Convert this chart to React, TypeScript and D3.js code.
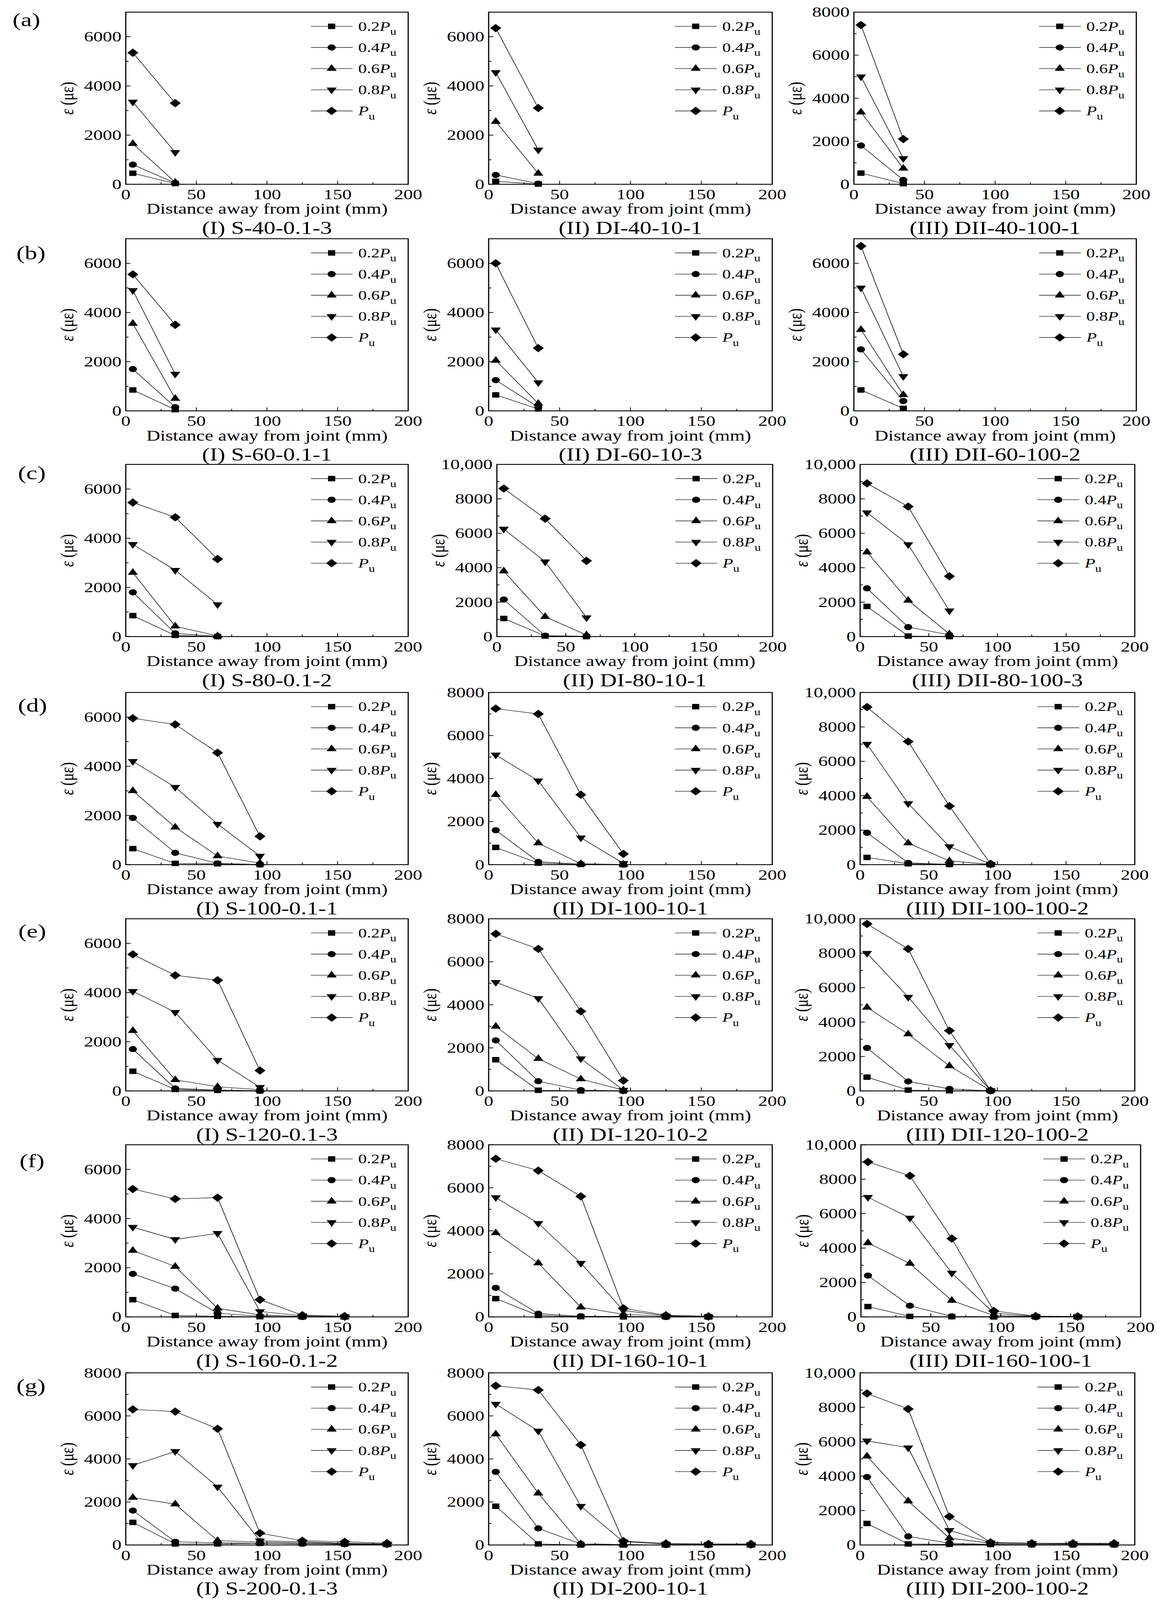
import { useEffect } from 'react';
import { line, range, scaleLinear, symbol, symbolCircle, symbolSquare, symbolTriangle } from 'd3';

// distances of the strain gauges from the joint (mm)
const distances = [5, 35, 65, 95, 125, 155, 185];
const loadLevels = ['0.2', '0.4', '0.6', '0.8', ''];
const markerKinds = ['square', 'circle', 'triangleUp', 'triangleDown', 'diamond'];
const rowLabels = ['(a)', '(b)', '(c)', '(d)', '(e)', '(f)', '(g)'];

const captions = [
  ['(I) S-40-0.1-3', '(II) DI-40-10-1', '(III) DII-40-100-1'],
  ['(I) S-60-0.1-1', '(II) DI-60-10-3', '(III) DII-60-100-2'],
  ['(I) S-80-0.1-2', '(II) DI-80-10-1', '(III) DII-80-100-3'],
  ['(I) S-100-0.1-1', '(II) DI-100-10-1', '(III) DII-100-100-2'],
  ['(I) S-120-0.1-3', '(II) DI-120-10-2', '(III) DII-120-100-2'],
  ['(I) S-160-0.1-2', '(II) DI-160-10-1', '(III) DII-160-100-1'],
  ['(I) S-200-0.1-3', '(II) DI-200-10-1', '(III) DII-200-100-2'],
];

const yMaxes = [
  [7000, 7000, 8000],
  [7000, 7000, 7000],
  [7000, 10000, 10000],
  [7000, 8000, 10000],
  [7000, 8000, 10000],
  [7000, 8000, 10000],
  [8000, 8000, 10000],
];

// strain (με), one row per load level: 0.2Pu, 0.4Pu, 0.6Pu, 0.8Pu, Pu
const strainA1 = [[450, 30], [800, 50], [1650, 80], [3350, 1300], [5350, 3300]];
const strainA2 = [[120, 10], [380, 25], [2550, 440], [4550, 1400], [6350, 3100]];
const strainA3 = [[520, 30], [1800, 200], [3350, 740], [5000, 1200], [7400, 2100]];

const strainB1 = [[850, 50], [1700, 150], [3550, 500], [4900, 1500], [5550, 3500]];
const strainB2 = [[650, 80], [1250, 150], [2050, 300], [3300, 1150], [6000, 2550]];
const strainB3 = [[850, 100], [2500, 400], [3300, 650], [5000, 1400], [6700, 2300]];

const strainC1 = [[850, 50, 0], [1800, 130, 10], [2600, 420, 25], [3750, 2700, 1300], [5450, 4850, 3150]];
const strainC2 = [[1050, 35, 0], [2150, 50, 20], [3800, 1150, 90], [6250, 4350, 1100], [8600, 6850, 4400]];
const strainC3 = [[1750, 30, 0], [2800, 550, 100], [4900, 2100, 150], [7200, 5350, 1500], [8900, 7550, 3500]];

const strainD1 = [[650, 50, 35, 0], [1900, 480, 50, 10], [3000, 1520, 350, 60], [4200, 3150, 1650, 350], [5950, 5700, 4550, 1150]];
const strainD2 = [[800, 70, 10, 0], [1600, 130, 25, 0], [3250, 1000, 40, 10], [5100, 3900, 1250, 60], [7250, 7000, 3250, 500]];
const strainD3 = [[420, 50, 10, 0], [1850, 100, 20, 0], [3950, 1250, 220, 10], [7000, 3550, 1050, 30], [9150, 7150, 3400, 50]];

const strainE1 = [[800, 60, 25, 0], [1700, 100, 35, 10], [2450, 450, 170, 50], [4050, 3200, 1250, 150], [5550, 4700, 4500, 830]];
const strainE2 = [[1450, 30, 0, 0], [2350, 450, 40, 0], [3000, 1500, 550, 40], [5050, 4300, 1500, 40], [7300, 6600, 3700, 480]];
const strainE3 = [[800, 50, 10, 0], [2500, 550, 120, 0], [4850, 3300, 1450, 30], [8000, 5450, 2650, 30], [9700, 8250, 3500, 30]];

const strainF1 = [
  [700, 60, 25, 10, 0, 0],
  [1750, 1150, 150, 30, 0, 0],
  [2700, 2050, 350, 80, 20, 0],
  [3650, 3150, 3400, 220, 50, 10],
  [5200, 4800, 4850, 700, 70, 35],
];
const strainF2 = [
  [850, 70, 15, 0, 0, 0],
  [1350, 150, 30, 30, 0, 0],
  [3900, 2500, 450, 120, 30, 0],
  [5550, 4350, 2500, 300, 50, 15],
  [7350, 6800, 5600, 400, 80, 30],
];
const strainF3 = [
  [600, 30, 15, 0, 0, 0],
  [2400, 650, 30, 20, 0, 0],
  [4300, 3100, 950, 80, 20, 0],
  [6950, 5750, 2550, 220, 30, 10],
  [9000, 8200, 4550, 350, 50, 30],
];

const strainG1 = [
  [1050, 50, 50, 80, 60, 40, 20],
  [1600, 150, 100, 80, 60, 40, 20],
  [2200, 1900, 200, 140, 100, 70, 30],
  [3700, 4350, 2700, 200, 150, 80, 50],
  [6300, 6200, 5400, 550, 200, 150, 80],
];
const strainG2 = [
  [1800, 50, 0, 0, 0, 0, 0],
  [3400, 770, 50, 20, 0, 0, 0],
  [5150, 2400, 50, 20, 0, 0, 0],
  [6550, 5300, 1800, 150, 40, 30, 20],
  [7400, 7200, 4650, 180, 70, 50, 50],
];
const strainG3 = [
  [1250, 60, 40, 30, 20, 10, 10],
  [3950, 500, 100, 40, 20, 20, 20],
  [5150, 2550, 400, 100, 80, 60, 40],
  [6050, 5650, 850, 130, 100, 80, 60],
  [8800, 7900, 1650, 150, 100, 100, 100],
];

const strains = [
  [strainA1, strainA2, strainA3],
  [strainB1, strainB2, strainB3],
  [strainC1, strainC2, strainC3],
  [strainD1, strainD2, strainD3],
  [strainE1, strainE2, strainE3],
  [strainF1, strainF2, strainF3],
  [strainG1, strainG2, strainG3],
];

const FONT = '"Liberation Serif", "Times New Roman", serif';
const PAGE_W = 2985;
const PAGE_H = 5409;
const rowTops = [41, 807, 1570, 2341, 3106, 3870, 4641];
const plotHeight = 582;
const rowLabelPos = [[32, 47], [42, 70], [46, 50], [46, 65], [47, 64], [50, 76], [42, 65]];

function frameFor(r: number, c: number): [number, number] {
  if (c === 0) return [322, 1045];
  if (c === 1) return r === 2 ? [1272, 1978] : [1251, 1977];
  if (r <= 1) return [2186, 2909];
  if (r === 5) return [2204, 2920];
  return [2202, 2905];
}

const squarePath = symbol(symbolSquare, 340)() ?? '';
const circlePath = symbol(symbolCircle, 340)() ?? '';
const trianglePath = symbol(symbolTriangle, 290)() ?? '';
const diamondPath = symbol(symbolSquare, 400)() ?? '';

function Marker({ kind, x, y }: { kind: string; x: number; y: number }) {
  if (kind === 'square') return <path d={squarePath} transform={`translate(${x},${y})`} fill="#000" />;
  if (kind === 'circle') return <path d={circlePath} transform={`translate(${x},${y})`} fill="#000" />;
  if (kind === 'triangleUp') return <path d={trianglePath} transform={`translate(${x},${y})`} fill="#000" />;
  if (kind === 'triangleDown') return <path d={trianglePath} transform={`translate(${x},${y}) rotate(180)`} fill="#000" />;
  return <path d={diamondPath} transform={`translate(${x},${y}) rotate(45)`} fill="#000" />;
}

const yTickText = (v: number) => (v >= 10000 ? v.toLocaleString('en-US') : String(v));

function Panel({ r, c }: { r: number; c: number }) {
  const [left, right] = frameFor(r, c);
  const top = rowTops[r];
  const bottom = top + plotHeight;
  const yMax = yMaxes[r][c];
  const data = strains[r][c];

  const x = scaleLinear().domain([0, 200]).range([left, right]);
  const y = scaleLinear().domain([0, yMax]).range([bottom, top]);
  const path = line<number>()
    .x((_, i) => x(distances[i]))
    .y((d) => y(d));

  const majorY = range(0, yMax + 1, 2000);
  const minorY = range(1000, yMax, 2000);
  const majorX = x.ticks(4);
  const minorX = range(25, 200, 50);
  const legendX = right - 249;

  return (
    <g fontFamily={FONT} fill="#000">
      {data.map((series, s) => (
        <g key={`s${s}`}>
          <path d={path(series) ?? ''} fill="none" stroke="#1a1a1a" strokeWidth={1.8} />
          {series.map((v, i) => (
            <Marker key={i} kind={markerKinds[s]} x={x(distances[i])} y={y(v)} />
          ))}
        </g>
      ))}

      <rect x={left} y={top} width={right - left} height={plotHeight} fill="none" stroke="#000" strokeWidth={3} />
      {majorY.map((v) => (
        <line key={`my${v}`} x1={left} x2={left + 12} y1={y(v)} y2={y(v)} stroke="#000" strokeWidth={2.4} />
      ))}
      {minorY.map((v) => (
        <line key={`ny${v}`} x1={left} x2={left + 7} y1={y(v)} y2={y(v)} stroke="#000" strokeWidth={2.4} />
      ))}
      {majorX.map((v) => (
        <line key={`mx${v}`} x1={x(v)} x2={x(v)} y1={bottom} y2={bottom - 12} stroke="#000" strokeWidth={2} />
      ))}
      {minorX.map((v) => (
        <line key={`nx${v}`} x1={x(v)} x2={x(v)} y1={bottom} y2={bottom - 7} stroke="#000" strokeWidth={2} />
      ))}

      {majorY.map((v) => (
        <text key={`ty${v}`} x={left - 11} y={y(v) + 16} fontSize={48} textAnchor="end">
          {yTickText(v)}
        </text>
      ))}
      {majorX.map((v) => (
        <text key={`tx${v}`} x={x(v)} y={bottom + 51} fontSize={48} textAnchor="middle">
          {v}
        </text>
      ))}

      <text x={(left + right) / 2} y={bottom + 100} fontSize={49} textAnchor="middle">
        Distance away from joint (mm)
      </text>
      <text transform={`translate(${left - 134},${(top + bottom) / 2}) rotate(-90)`} fontSize={49} textAnchor="middle">
        <tspan fontStyle="italic">ε</tspan> (με)
      </text>
      <text x={(left + right) / 2} y={bottom + 168} fontSize={60} textAnchor="middle">
        {captions[r][c]}
      </text>

      {loadLevels.map((lv, s) => {
        const ly = top + 48 + s * 71.5;
        return (
          <g key={`lg${s}`}>
            <line x1={legendX} x2={legendX + 107} y1={ly} y2={ly} stroke="#1a1a1a" strokeWidth={1.8} />
            <Marker kind={markerKinds[s]} x={legendX + 53} y={ly} />
            <text x={legendX + 121} y={ly + 15} fontSize={44}>
              {lv}
              <tspan fontStyle="italic">P</tspan>
              <tspan fontSize={32} dy={14}>u</tspan>
            </text>
          </g>
        );
      })}
    </g>
  );
}

export default function App() {
  useEffect(() => {
    document.body.style.margin = '0';
  }, []);

  // the browser window can be shorter than the figure, so the figure is fitted to it
  const drawHeight = Math.min(PAGE_H, window.innerHeight || PAGE_H);

  return (
    <svg
      width={PAGE_W}
      height={drawHeight}
      viewBox={`0 0 ${PAGE_W} ${PAGE_H}`}
      preserveAspectRatio="none"
      style={{ display: 'block', background: '#fff' }}
    >
      <rect width={PAGE_W} height={PAGE_H} fill="#fff" />
      {rowLabels.map((label, r) => (
        <text key={label} x={rowLabelPos[r][0]} y={rowTops[r] + rowLabelPos[r][1]} fontSize={64} fontFamily={FONT}>
          {label}
        </text>
      ))}
      {rowLabels.map((_, r) => [0, 1, 2].map((c) => <Panel key={`${r}-${c}`} r={r} c={c} />))}
    </svg>
  );
}
